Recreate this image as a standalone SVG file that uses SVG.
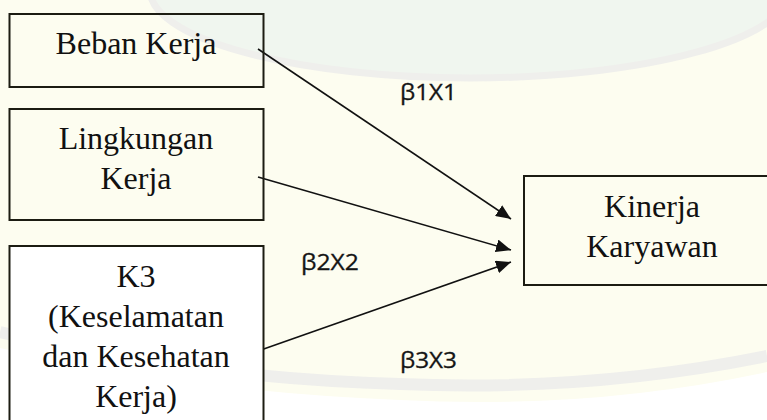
<svg xmlns="http://www.w3.org/2000/svg" width="767" height="420" viewBox="0 0 767 420">
  <style>
    .box { fill: none; stroke: #1c1c12; stroke-width: 2; }
    .box-solid { fill: #ffffff; stroke: #1c1c12; stroke-width: 2; }
    .label { font-family: "Liberation Serif", "Times New Roman", serif; font-size: 32px; fill: #111111; text-anchor: middle; }
    .coef { font-family: "Open Sans", "Liberation Sans", sans-serif; font-size: 22px; fill: #151515; stroke: #151515; stroke-width: 0.3; }
    .edge { stroke: #111111; stroke-width: 1.6; fill: none; marker-end: url(#head); }
  </style>
  <defs>
    <marker id="head" viewBox="0 0 15 13" refX="15" refY="6.5" markerWidth="15" markerHeight="13" markerUnits="userSpaceOnUse" orient="auto">
      <path d="M0,0 L15,6.5 L0,13 Z" fill="#111111"/>
    </marker>
  </defs>

  <!-- page and faint background emblem -->
  <g id="background">
    <rect x="0" y="0" width="767" height="420" fill="#ffffff"/>
    <path d="M0,0 H767 V372 Q590 410 400 400 Q190 392 0 348 Z" fill="#fdfdf0"/>
    <path d="M0,332 Q190 378 400 384 Q590 392 767 356" fill="none" stroke="#efefec" stroke-width="12"/>
    <ellipse cx="470" cy="-10" rx="320" ry="88" fill="#f0f6ef"/>
    <ellipse cx="470" cy="-10" rx="320" ry="88" fill="none" stroke="#efefec" stroke-width="7"/>
  </g>

  <g id="connectors">
    <line class="edge" x1="258" y1="49" x2="511" y2="219"/>
    <line class="edge" x1="258" y1="177" x2="511" y2="250"/>
    <line class="edge" x1="258" y1="351" x2="511" y2="262"/>
    <text class="coef" x="400" y="100" textLength="57" lengthAdjust="spacingAndGlyphs">β1X1</text>
    <text class="coef" x="301" y="270" textLength="58" lengthAdjust="spacingAndGlyphs">β2X2</text>
    <text class="coef" x="400" y="368" textLength="57" lengthAdjust="spacingAndGlyphs">β3X3</text>
  </g>

  <g id="beban-kerja">
    <rect class="box" x="9.5" y="14" width="254" height="73"/>
    <text class="label" x="136" y="54">Beban Kerja</text>
  </g>

  <g id="lingkungan-kerja">
    <rect class="box" x="9.5" y="109" width="254" height="111"/>
    <text class="label" x="136" y="149">Lingkungan</text>
    <text class="label" x="136" y="189">Kerja</text>
  </g>

  <g id="k3">
    <rect class="box-solid" x="9.5" y="246" width="254" height="190"/>
    <text class="label" x="136" y="287">K3</text>
    <text class="label" x="136" y="327">(Keselamatan</text>
    <text class="label" x="136" y="367">dan Kesehatan</text>
    <text class="label" x="136" y="407">Kerja)</text>
  </g>

  <g id="kinerja-karyawan">
    <rect class="box" x="524" y="176" width="280" height="109"/>
    <text class="label" x="652" y="217">Kinerja</text>
    <text class="label" x="652" y="257">Karyawan</text>
  </g>
</svg>
